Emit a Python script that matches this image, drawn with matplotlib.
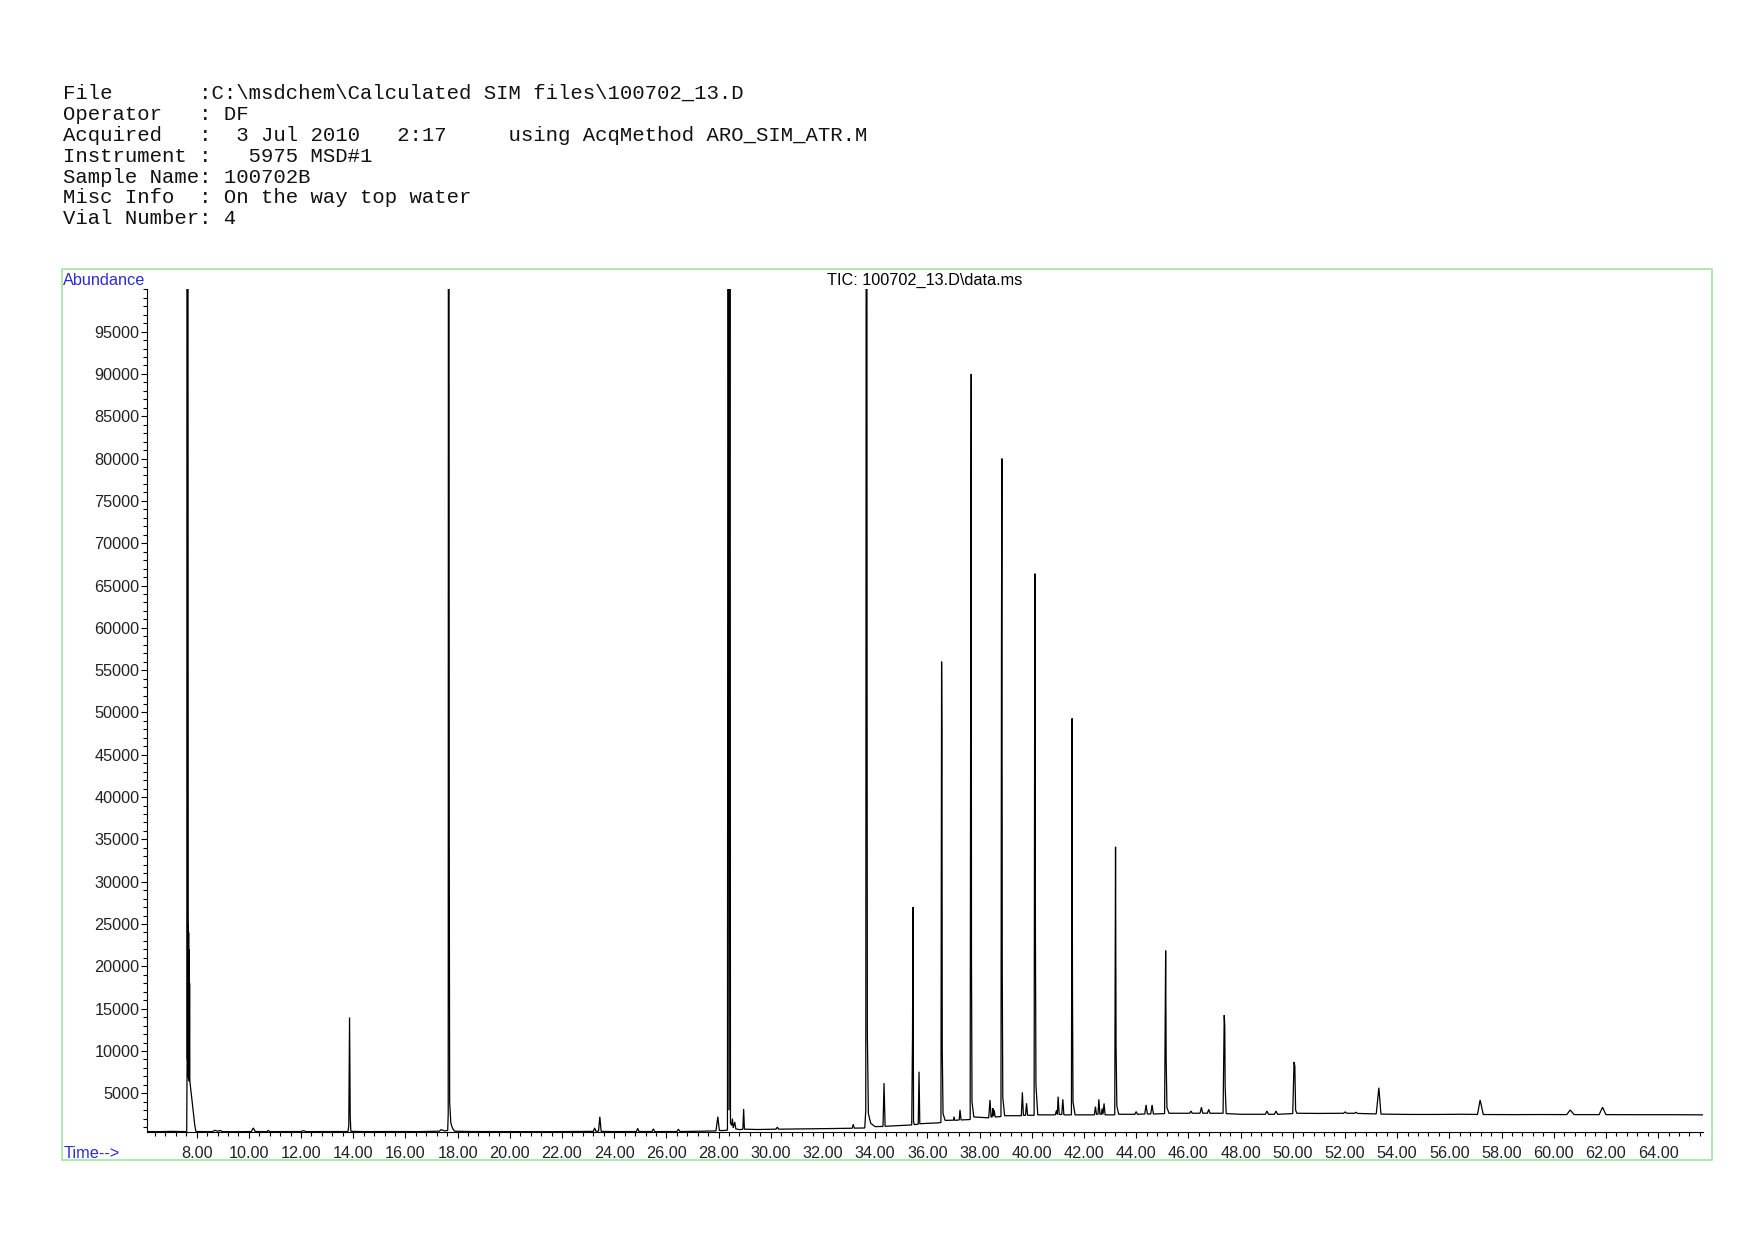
import matplotlib
matplotlib.use("Agg")
import matplotlib.pyplot as plt
from matplotlib.ticker import MultipleLocator, FuncFormatter
from matplotlib.patches import Rectangle

# ---------------- header text ----------------
header_lines = [
    "File       :C:\\msdchem\\Calculated SIM files\\100702_13.D",
    "Operator   : DF",
    "Acquired   :  3 Jul 2010   2:17     using AcqMethod ARO_SIM_ATR.M",
    "Instrument :   5975 MSD#1",
    "Sample Name: 100702B",
    "Misc Info  : On the way top water",
    "Vial Number: 4",
]
chart_title = "TIC: 100702_13.D\\data.ms"
y_label = "Abundance"
x_label = "Time-->"

# ---------------- axis ticks ----------------
x_tick_values = [8, 10, 12, 14, 16, 18, 20, 22, 24, 26, 28, 30, 32, 34, 36,
                 38, 40, 42, 44, 46, 48, 50, 52, 54, 56, 58, 60, 62, 64]
y_tick_values = [5000, 10000, 15000, 20000, 25000, 30000, 35000, 40000, 45000,
                 50000, 55000, 60000, 65000, 70000, 75000, 80000, 85000,
                 90000, 95000]
x_range = (6.11, 65.72)
y_range = (390, 100000)

# ---------------- TIC trace (retention time in min, abundance) ----------------
rt_early = [6.11, 6.6, 7.0, 7.3, 7.62,
            7.635, 7.642, 7.650, 7.657, 7.664, 7.670, 7.676, 7.682, 7.688,
            7.694, 7.700, 7.706, 7.712, 7.718, 7.724, 7.730, 7.736, 7.742,
            7.80, 7.87, 7.93, 7.97,
            8.0, 8.6, 8.7, 8.8, 8.9, 9.0, 9.6, 10.1, 10.17, 10.25, 10.7, 10.75,
            10.8, 12.0, 12.1, 12.2, 13.0, 13.8, 13.83, 13.86, 13.885, 13.91,
            14.5, 15.5, 16.5, 17.3, 17.37, 17.5, 17.62, 17.64, 17.648, 17.668,
            17.68, 17.695, 17.74, 17.8, 17.88, 18.5, 19.5, 20.5, 21.5, 22.5,
            23.2, 23.25, 23.3, 23.4, 23.45, 23.5, 24.0, 24.85, 24.9, 24.95,
            25.45, 25.5, 25.55, 26.4, 26.46, 26.52, 27.4, 27.9, 27.97, 28.03,
            28.2]
ab_early = [480, 470, 500, 480, 470,
            8700, 150000, 9000, 150000, 50000, 22000, 6800, 25000, 7000,
            24000, 6600, 22000, 6500, 20000, 6400, 18000, 6400, 6400,
            4800, 2800, 1200, 520,
            480, 470, 620, 520, 600, 470, 460, 480, 900, 480, 470, 620,
            470, 480, 580, 470, 480, 480, 1200, 13960, 2300, 500,
            470, 480, 470, 520, 700, 560, 600, 2500, 150000, 150000,
            36100, 4000, 1500, 900, 520, 480, 470, 470, 460, 480,
            500, 900, 520, 520, 2230, 500, 470, 480, 850, 480,
            480, 800, 470, 480, 750, 480, 520, 560, 2230, 600,
            600]

rt_mid = [28.34, 28.362, 28.372, 28.40, 28.428, 28.438, 28.455, 28.50, 28.53,
          28.56, 28.62, 28.66, 28.8, 28.93, 28.96, 28.99, 29.5, 30.2, 30.25,
          30.3, 31.0, 32.0, 33.0, 33.12, 33.16, 33.2, 33.6, 33.64, 33.66,
          33.68, 33.69, 33.70, 33.74, 33.83, 34.0]
ab_mid = [650, 150000, 150000, 3000, 150000, 150000, 1500, 1200, 2000,
          900, 1600, 800, 700, 760, 3150, 760, 720, 760, 1000,
          760, 780, 820, 860, 870, 1340, 880, 900, 3000, 150000,
          150000, 52000, 12000, 2600, 1450, 1060]

rt_late = [34.3, 34.34, 34.38, 35.0, 35.40, 35.43, 35.45, 35.47, 35.5, 35.65,
           35.68, 35.71, 36.0, 36.4, 36.52, 36.545, 36.56, 36.57, 36.6, 36.68,
           37.0, 37.02, 37.05, 37.22, 37.25, 37.29, 37.64, 37.665, 37.68,
           37.69, 37.71, 37.78, 38.35, 38.40, 38.44, 38.48, 38.51, 38.53,
           38.56, 38.6, 38.82, 38.84, 38.855, 38.87, 38.89, 38.96, 39.6, 39.64,
           39.68, 39.76, 39.80, 39.84, 40.09, 40.11, 40.125, 40.14, 40.16,
           40.23, 40.9, 40.95, 40.98, 41.01, 41.05, 41.15, 41.19, 41.23, 41.52,
           41.545, 41.56, 41.58, 41.66, 42.4, 42.44, 42.48, 42.54, 42.57,
           42.61, 42.66, 42.70, 42.73, 42.77, 42.81, 43.18, 43.21, 43.23,
           43.26, 43.33, 43.95, 44.0, 44.05, 44.33, 44.38, 44.43, 44.56,
           44.61, 44.66, 45.09, 45.13, 45.15, 45.18, 45.26, 46.05, 46.10,
           46.15, 46.45, 46.50, 46.55, 46.73, 46.78, 46.83, 47.33, 47.375,
           47.395, 47.41, 47.45, 48.0, 48.95, 49.01, 49.07, 49.30, 49.36,
           49.42, 50.0, 50.05, 50.08, 50.11, 50.16, 51.0, 51.95, 52.01, 52.07,
           52.36, 52.42, 52.48, 53.2, 53.30, 53.38, 54.5, 55.5, 56.5, 57.08,
           57.18, 57.30, 58.5, 59.5, 60.5, 60.63, 60.78, 61.74, 61.87, 62.0,
           63.0, 64.5, 65.72]
ab_late = [1080, 6200, 1100, 1200, 1260, 11500, 27000, 1600, 1300, 1350,
           7550, 1400, 1450, 1500, 1550, 56000, 47500, 10300, 2600, 1800,
           1820, 2240, 1800, 1850, 3030, 1850, 1900, 67000, 90000,
           21000, 4000, 2200, 2100, 4210, 2200, 2200, 3230, 2300,
           3000, 2200, 2250, 59000, 80000, 19000, 4500, 2350, 2350, 5110,
           2400, 2400, 3820, 2400, 2400, 48500, 66400, 24500, 6000,
           2450, 2450, 3000, 2500, 4600, 2500, 2500, 4290, 2450, 2450,
           49300, 17600, 4000, 2450, 2450, 3420, 2500, 2550, 4290,
           2550, 2500, 3200, 2500, 3800, 2450, 2450, 34120, 10600,
           3500, 2520, 2520, 2830, 2520, 2550, 3620, 2550, 2550,
           3620, 2550, 2600, 21860, 9000, 3300, 2640, 2640, 2900,
           2640, 2650, 3350, 2650, 2650, 3100, 2640, 2640, 14230,
           13000, 5800, 2600, 2520, 2520, 2900, 2520, 2520, 2900,
           2520, 2600, 8700, 8200, 3000, 2640, 2620, 2640, 2800, 2640,
           2640, 2750, 2620, 2560, 5660, 2540, 2500, 2500, 2520, 2500,
           4210, 2490, 2480, 2490, 2480, 3030, 2480, 2480, 3350, 2480,
           2470, 2470, 2450]

# ---------------- figure ----------------
W, H = 1754, 1240
fig = plt.figure(figsize=(W / 100, H / 100), dpi=100)
fig.patch.set_facecolor("white")

def fx(px):
    return px / W

def fy(py):
    return 1 - py / H

# header block
mono = ["Liberation Mono", "DejaVu Sans Mono"]
for i, line in enumerate(header_lines):
    fig.text(fx(63), fy(99 + i * 20.88), line, family=mono, fontsize=14.9,
             ha="left", va="baseline", color="#111111")

# green frame around plot region
frame = Rectangle((fx(62.3), fy(1160)), fx(1711.7) - fx(62.3), fy(269) - fy(1160),
                  transform=fig.transFigure, fill=False, edgecolor="#9be39b",
                  linewidth=1.1, zorder=0)
fig.patches.append(frame)

sans = ["Liberation Sans", "DejaVu Sans"]
blue = "#2a2ad8"
fig.text(fx(63.3), fy(284.5), y_label, family=sans, fontsize=11.7, color=blue,
         ha="left", va="baseline")
fig.text(fx(63.3), fy(1158.5), x_label, family=sans, fontsize=11.7, color=blue,
         ha="left", va="baseline")
fig.text(fx(925), fy(285), chart_title, family=sans, fontsize=11.7, color="black",
         ha="center", va="baseline")

ax_left, ax_right, ax_top, ax_bottom = 147.3, 1703.0, 289.3, 1132.3
ax = fig.add_axes([fx(ax_left), fy(ax_bottom), fx(ax_right) - fx(ax_left),
                   fy(ax_top) - fy(ax_bottom)])
ax.set_facecolor("none")

rt = rt_early + rt_mid + rt_late
ab = ab_early + ab_mid + ab_late
ax.plot(rt, ab, color="black", linewidth=0.9, solid_joinstyle="miter")

ax.set_xlim(*x_range)
ax.set_ylim(*y_range)

for side in ("top", "right"):
    ax.spines[side].set_visible(False)
for side in ("left", "bottom"):
    ax.spines[side].set_linewidth(0.8)
    ax.spines[side].set_color("black")

ax.set_xticks(x_tick_values)
ax.xaxis.set_minor_locator(MultipleLocator(0.4))
ax.xaxis.set_major_formatter(FuncFormatter(lambda v, p: f"{v:.2f}"))
ax.set_yticks(y_tick_values)
ax.yaxis.set_minor_locator(MultipleLocator(1000))
ax.yaxis.set_major_formatter(FuncFormatter(lambda v, p: f"{int(round(v))}"))

ax.tick_params(axis="both", which="major", direction="out", length=4.6, width=0.8,
               labelsize=11.7, colors="black")
ax.tick_params(axis="both", which="minor", direction="out", length=2.6, width=0.8)
ax.tick_params(axis="x", which="major", pad=5.2)
ax.tick_params(axis="y", which="major", pad=1)
for lab in ax.get_xticklabels() + ax.get_yticklabels():
    lab.set_family(sans)
    lab.set_color("#222222")

fig.savefig("out.png", dpi=100, facecolor="white")
